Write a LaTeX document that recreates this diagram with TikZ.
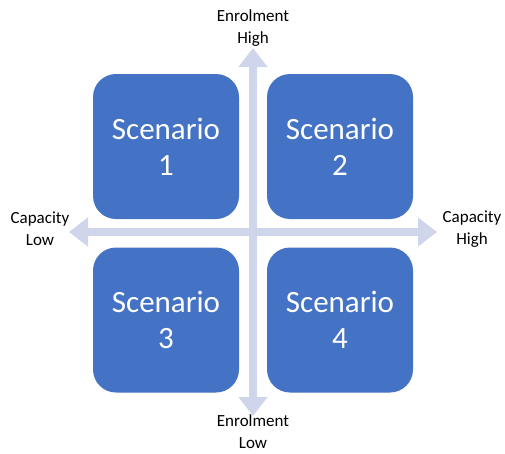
\documentclass[tikz,border=0pt]{standalone}
\usepackage{fontspec}
\setmainfont{Carlito}
\usetikzlibrary{arrows.meta}
\definecolor{boxblue}{HTML}{4472C4}
\definecolor{axisgrey}{HTML}{CFD5EA}
\begin{document}
\begin{tikzpicture}[x=1pt,y=-1pt]
    \tikzstyle{scen}=[fill=boxblue, rounded corners=23pt, minimum width=146pt, minimum height=145pt, text=white, align=center, font=\fontsize{31}{36}\selectfont, inner sep=0pt]
    \tikzstyle{lbl}=[align=center, font=\fontsize{17}{22}\selectfont, inner sep=0pt]
    \tikzstyle{axis}=[draw=axisgrey, line width=8pt, {Triangle[length=19pt,width=28pt]}-{Triangle[length=19pt,width=28pt]}]

    \useasboundingbox (0,0) rectangle (505,453);

    \coordinate(a_top) at (253, 48);
    \coordinate(a_bot) at (253, 416);
    \coordinate(a_left) at (69, 232);
    \coordinate(a_right) at (437, 232);
    \draw[style=axis] (a_top) -- (a_bot);
    \draw[style=axis] (a_left) -- (a_right);

    \node[scen](n_1) at (166, 146.5) {Scenario\\1};
    \node[scen](n_2) at (340, 146.5) {Scenario\\2};
    \node[scen](n_3) at (166, 320) {Scenario\\3};
    \node[scen](n_4) at (340, 320) {Scenario\\4};

    \node[lbl](l_top) at (253, 28) {Enrolment\\High};
    \node[lbl](l_bot) at (253, 432) {Enrolment\\Low};
    \node[lbl](l_left) at (40, 229) {Capacity\\Low};
    \node[lbl](l_right) at (472, 229) {Capacity\\High};

\end{tikzpicture}
\end{document}
